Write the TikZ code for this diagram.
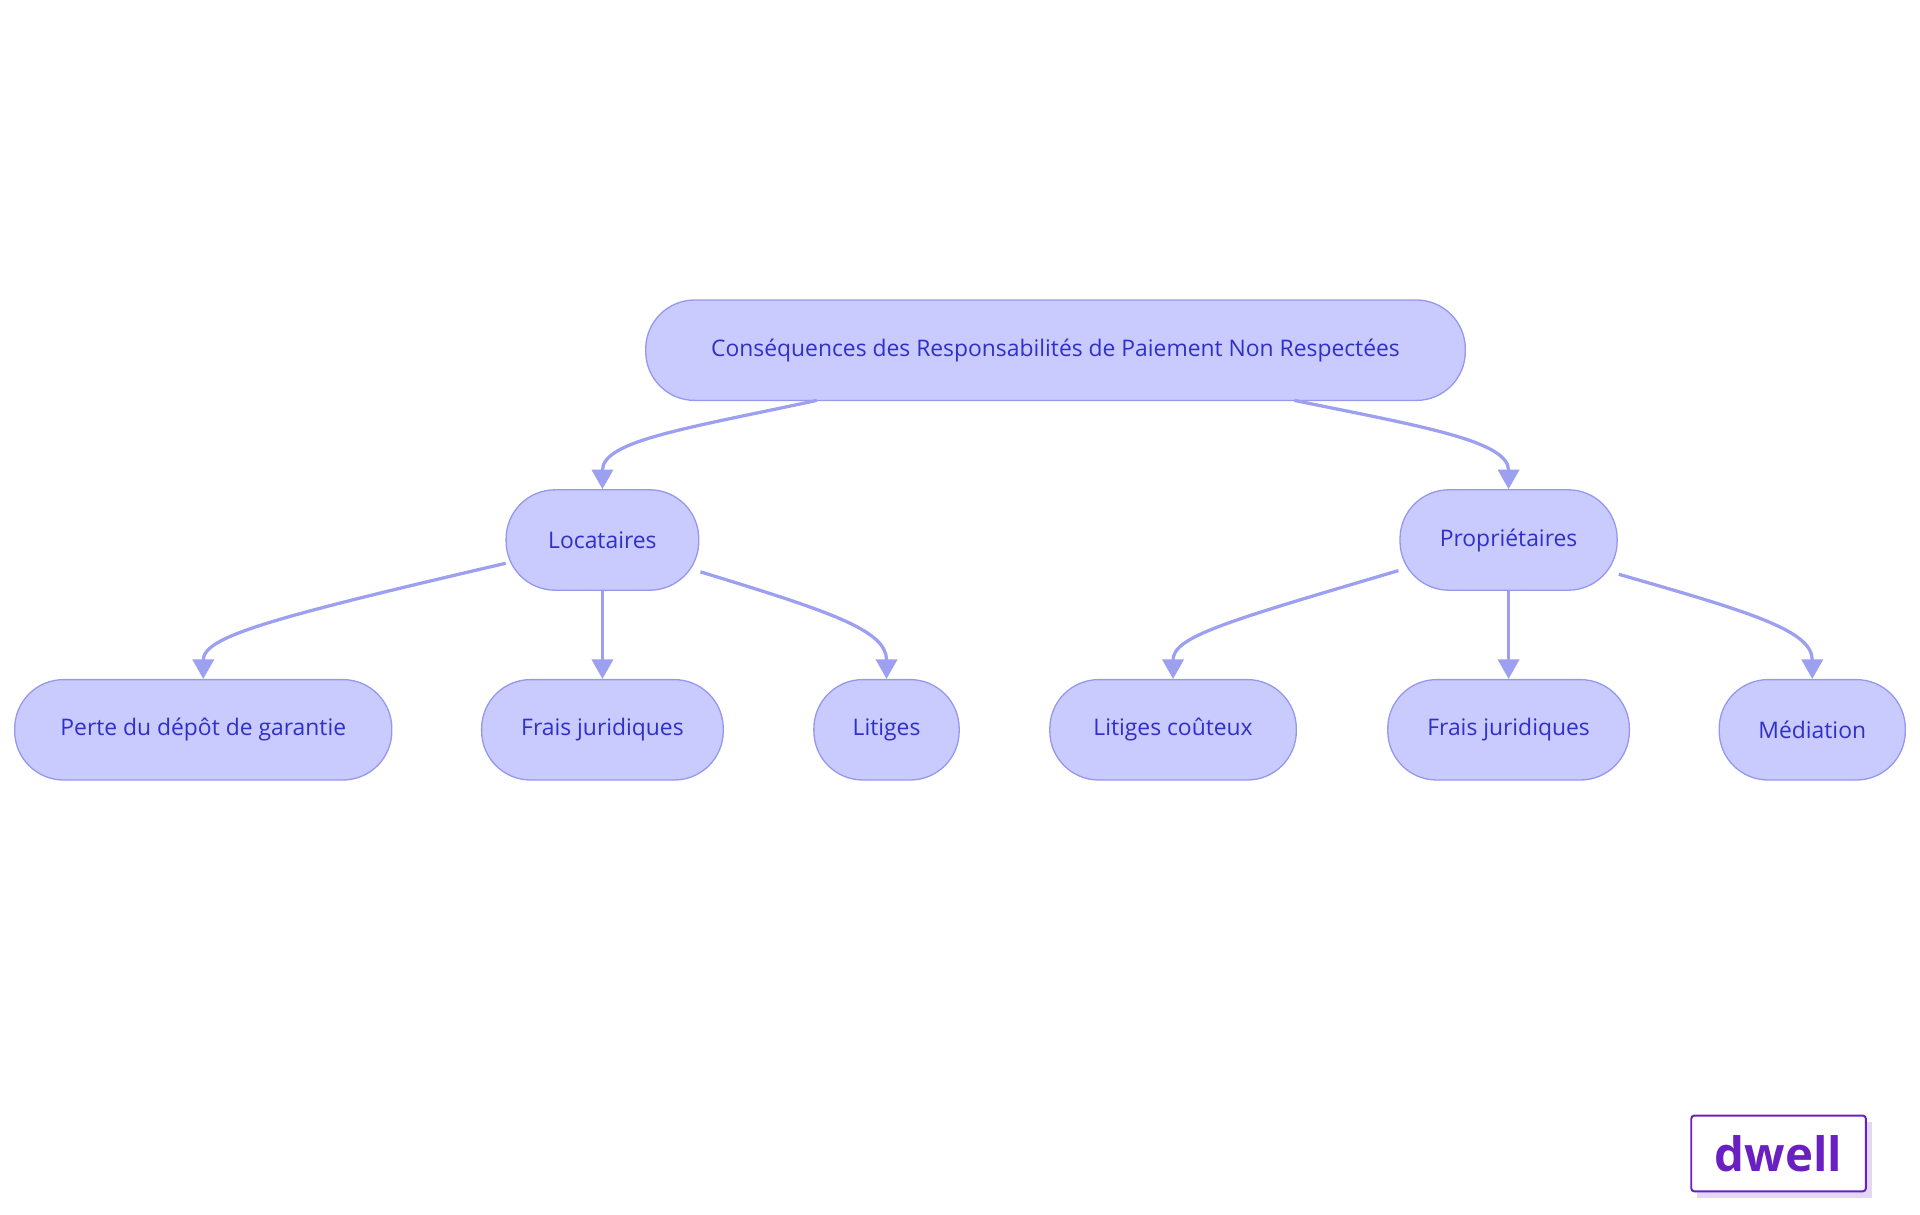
\documentclass[tikz,border=0pt]{standalone}
\usepackage{fontspec}
\setmainfont{Open Sans}
\usetikzlibrary{arrows.meta}
\definecolor{nf}{HTML}{C9CAFE}
\definecolor{ns}{HTML}{9698EE}
\definecolor{nt}{HTML}{3030C8}
\definecolor{ed}{HTML}{9D9FF0}
\definecolor{lg}{HTML}{6A1FC2}
\begin{document}
\begin{tikzpicture}[x=0.75pt,y=-0.75pt,
 box/.style={draw=ns,fill=nf,rounded corners=30pt,minimum height=61.5pt,text=nt,font=\fontsize{14}{16}\selectfont,inner sep=0pt,line width=0.8pt},
 ar/.style={draw=ed,line width=2pt,-{Triangle[length=12pt,width=13pt]}}]
\useasboundingbox (0,0) rectangle (1568,992);
\node[box,minimum width=502pt] (r) at (862,286) {Conséquences des Responsabilités de Paiement Non Respectées};
\node[box,minimum width=118pt] (l) at (492,441) {Locataires};
\node[box,minimum width=133pt] (p) at (1232,441) {Propriétaires};
\node[box,minimum width=231pt] (a) at (166,596) {Perte du dépôt de garantie};
\node[box,minimum width=148pt] (b) at (492,596) {Frais juridiques};
\node[box,minimum width=89pt] (c) at (724,596) {Litiges};
\node[box,minimum width=151pt] (d) at (958,596) {Litiges coûteux};
\node[box,minimum width=148pt] (e) at (1232,596) {Frais juridiques};
\node[box,minimum width=114pt] (f) at (1480,596) {Médiation};
\coordinate (r1) at (667,327); \coordinate (r2) at (1057,327);
\draw[ar] (r1) .. controls (560,350) and (492,360) .. (l.north);
\draw[ar] (r2) .. controls (1160,348) and (1232,360) .. (p.north);
\coordinate (l1) at (413,460); \coordinate (l2) at (572,467);
\draw[ar] (l1) .. controls (220,505) and (166,520) .. (a.north);
\draw[ar] (l.south) -- (b.north);
\draw[ar] (l2) .. controls (680,500) and (724,515) .. (c.north);
\coordinate (p1) at (1142,466); \coordinate (p2) at (1322,469);
\draw[ar] (p1) .. controls (1000,508) and (958,520) .. (d.north);
\draw[ar] (p.south) -- (e.north);
\draw[ar] (p2) .. controls (1430,500) and (1480,515) .. (f.north);
\fill[lg!18] (1386,916) rectangle (1529,978);
\node[draw=lg,fill=white,line width=1.2pt,rounded corners=2pt,minimum width=107pt,minimum height=46.5pt,inner sep=0pt,text=lg,font=\fontsize{29}{30}\selectfont\bfseries] (g) at (1452.5,942) {dwell};
\end{tikzpicture}
\end{document}
